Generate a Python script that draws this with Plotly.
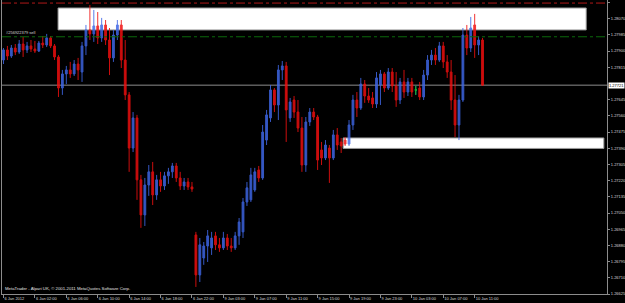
import plotly.graph_objects as go

# ---- data (EURUSD-like M30 bars) ----
OPEN = [1.27853,1.27906,1.27874,1.27916,1.27895,1.27937,1.27906,1.27927,1.27911,1.27900,
        1.27942,1.27932,1.27969,1.27927,1.27869,1.27706,1.27780,1.27801,1.27780,1.27832,
        1.27790,1.27927,1.28011,1.27990,1.28032,1.27969,1.28037,1.27958,1.27864,1.27984,
        1.28037,1.27853,1.27670,1.27391,1.27549,1.27224,1.27040,1.27197,1.27266,1.27145,
        1.27224,1.27192,1.27245,1.27266,1.27297,1.27234,1.27192,1.27213,1.27187,1.26935,
        1.26725,1.26814,1.26877,1.26867,1.26930,1.26883,1.26867,1.26919,1.26877,1.26867,
        1.26930,1.26951,1.27108,1.27119,1.27171,1.27276,1.27234,1.27433,1.27549,1.27696,
        1.27617,1.27801,1.27822,1.27549,1.27643,1.27580,1.27496,1.27302,1.27528,1.27580,
        1.27554,1.27381,1.27339,1.27391,1.27339,1.27460,1.27423,1.27433,1.27412,1.27512,
        1.27643,1.27601,1.27727,1.27664,1.27654,1.27622,1.27722,1.27780,1.27706,1.27790,
        1.27717,1.27643,1.27738,1.27685,1.27738,1.27696,1.27706,1.27659,1.27774,1.27853,
        1.27879,1.27853,1.27927,1.27843,1.27790,1.27643,1.27512,1.27643,1.27984,1.27916,
        1.28037,1.27932,1.27958]
HIGH = [1.27916,1.27927,1.27932,1.27937,1.27958,1.27974,1.27948,1.27958,1.27953,1.27953,
        1.27979,1.27990,1.27979,1.27937,1.27879,1.27801,1.27822,1.27843,1.27853,1.27864,
        1.27948,1.28037,1.28142,1.28116,1.28105,1.28074,1.28063,1.28021,1.28011,1.28063,
        1.28063,1.27958,1.27685,1.27580,1.27565,1.27250,1.27234,1.27302,1.27318,1.27250,
        1.27266,1.27266,1.27287,1.27313,1.27313,1.27266,1.27234,1.27234,1.27213,1.26951,
        1.26919,1.26898,1.26961,1.26951,1.26951,1.26919,1.26951,1.26940,1.26919,1.26951,
        1.27024,1.27129,1.27213,1.27287,1.27287,1.27297,1.27512,1.27591,1.27722,1.27706,
        1.27827,1.27848,1.27843,1.27654,1.27664,1.27643,1.27554,1.27554,1.27601,1.27601,
        1.27565,1.27423,1.27433,1.27407,1.27486,1.27496,1.27444,1.27449,1.27538,1.27670,
        1.27685,1.27759,1.27748,1.27706,1.27685,1.27790,1.27801,1.27790,1.27811,1.27811,
        1.27790,1.27759,1.27801,1.27759,1.27759,1.27717,1.27738,1.27801,1.27879,1.27906,
        1.27916,1.27948,1.27948,1.27879,1.27853,1.27774,1.27670,1.28021,1.28037,1.28079,
        1.28095,1.27979,1.27969]
LOW = [1.27832,1.27853,1.27864,1.27879,1.27885,1.27869,1.27890,1.27895,1.27890,1.27895,
       1.27916,1.27921,1.27916,1.27853,1.27659,1.27670,1.27727,1.27759,1.27769,1.27748,
       1.27738,1.27879,1.27958,1.27948,1.27937,1.27948,1.27932,1.27774,1.27843,1.27958,
       1.27811,1.27643,1.27266,1.27370,1.27119,1.26972,1.26982,1.27140,1.27092,1.27119,
       1.27161,1.27171,1.27203,1.27234,1.27213,1.27171,1.27171,1.27171,1.27161,1.26662,
       1.26688,1.26778,1.26793,1.26830,1.26856,1.26846,1.26856,1.26856,1.26846,1.26856,
       1.26883,1.26919,1.27087,1.27108,1.27161,1.27213,1.27224,1.27407,1.27528,1.27580,
       1.27538,1.27748,1.27423,1.27528,1.27549,1.27475,1.27266,1.27266,1.27507,1.27538,
       1.27276,1.27302,1.27328,1.27208,1.27328,1.27381,1.27365,1.27402,1.27402,1.27486,
       1.27554,1.27591,1.27628,1.27628,1.27601,1.27601,1.27617,1.27685,1.27696,1.27685,
       1.27607,1.27622,1.27654,1.27664,1.27659,1.27670,1.27643,1.27643,1.27748,1.27827,
       1.27827,1.27843,1.27811,1.27759,1.27591,1.27449,1.27433,1.27633,1.27879,1.27895,
       1.27864,1.27879,1.27717]
CLOSE = [1.27906,1.27874,1.27916,1.27895,1.27937,1.27906,1.27927,1.27911,1.27900,1.27942,
         1.27932,1.27969,1.27927,1.27869,1.27706,1.27780,1.27801,1.27780,1.27832,1.27801,
         1.27927,1.28011,1.27990,1.28032,1.27969,1.28037,1.27958,1.27864,1.27984,1.28037,
         1.27853,1.27670,1.27391,1.27549,1.27224,1.27040,1.27197,1.27266,1.27145,1.27224,
         1.27192,1.27245,1.27266,1.27297,1.27234,1.27192,1.27213,1.27187,1.27176,1.26725,
         1.26883,1.26877,1.26930,1.26919,1.26883,1.26867,1.26919,1.26877,1.26867,1.26930,
         1.27003,1.27108,1.27182,1.27250,1.27266,1.27234,1.27475,1.27565,1.27696,1.27617,
         1.27801,1.27822,1.27591,1.27633,1.27580,1.27496,1.27302,1.27528,1.27580,1.27554,
         1.27328,1.27339,1.27407,1.27339,1.27460,1.27407,1.27402,1.27412,1.27512,1.27643,
         1.27601,1.27727,1.27664,1.27643,1.27622,1.27759,1.27780,1.27706,1.27790,1.27717,
         1.27643,1.27738,1.27685,1.27738,1.27685,1.27696,1.27659,1.27774,1.27853,1.27879,
         1.27853,1.27927,1.27843,1.27790,1.27643,1.27512,1.27643,1.27984,1.27916,1.28021,
         1.27932,1.27958,1.27721]
DOJI_BARS = [105]

TICK_BARS = [0, 8, 16, 24, 32, 40, 48, 56, 64, 72, 80, 88, 96, 104, 112, 120]
TICK_TEXT = ["6 Jan 2012", "6 Jan 02:00", "6 Jan 06:00", "6 Jan 10:00", "6 Jan 14:00",
             "6 Jan 18:00", "6 Jan 22:00", "9 Jan 03:00", "9 Jan 07:00", "9 Jan 11:00",
             "9 Jan 15:00", "9 Jan 19:00", "9 Jan 23:00", "10 Jan 03:00", "10 Jan 07:00",
             "10 Jan 11:00"]
# 1.27730 is hidden behind the bid label in the reference
PRICE_TICKS = [1.26625, 1.26710, 1.26795, 1.26880, 1.26965, 1.27050, 1.27135, 1.27220,
               1.27305, 1.27390, 1.27475, 1.27560, 1.27645, 1.27815, 1.27900,
               1.27985, 1.28070, 1.28155]

STOP_LEVEL = 1.28152
ORDER_LEVEL = 1.27975
ORDER_LABEL = "#256922379 sell"
BID = 1.27721
ZONE_TOP = dict(x0=13.9, x1=148.4, y0=1.28011, y1=1.28126)
ZONE_LOW = dict(x0=86.5, x1=152.9, y0=1.27389, y1=1.27444)
COPYRIGHT = "MetaTrader - Alpari UK, © 2001-2011 MetaQuotes Software Corp."

BLUE = "#3f67e6"
RED = "#f01010"
FONT = "Liberation Sans"
FS = 4

bars = list(range(len(OPEN)))
fig = go.Figure()
fig.add_trace(go.Candlestick(
    x=bars, open=OPEN, high=HIGH, low=LOW, close=CLOSE,
    increasing=dict(line=dict(color=BLUE, width=1), fillcolor=BLUE),
    decreasing=dict(line=dict(color=RED, width=1), fillcolor=RED),
    opacity=0.85, whiskerwidth=0, hoverinfo="skip", showlegend=False))
fig.add_trace(go.Candlestick(
    x=DOJI_BARS, open=[OPEN[i] for i in DOJI_BARS], high=[HIGH[i] for i in DOJI_BARS],
    low=[LOW[i] for i in DOJI_BARS], close=[CLOSE[i] for i in DOJI_BARS],
    increasing=dict(line=dict(color="#10c020", width=1), fillcolor="#10c020"),
    decreasing=dict(line=dict(color="#10c020", width=1), fillcolor="#10c020"),
    hoverinfo="skip", showlegend=False))

shapes = []
for z in (ZONE_TOP, ZONE_LOW):
    shapes.append(dict(type="rect", xref="x", yref="y", layer="below",
                       fillcolor="#ffffff", line=dict(color="#9a9a9a", width=1), **z))
shapes.append(dict(type="line", xref="paper", yref="y", x0=0, x1=1, y0=BID, y1=BID,
                   line=dict(color="#8c8c8c", width=1), layer="below"))
shapes.append(dict(type="line", xref="paper", yref="y", x0=0, x1=1, y0=ORDER_LEVEL, y1=ORDER_LEVEL,
                   line=dict(color="#0b6a0b", width=1, dash="dashdot")))
shapes.append(dict(type="line", xref="paper", yref="y", x0=0, x1=1, y0=STOP_LEVEL, y1=STOP_LEVEL,
                   line=dict(color="#b01818", width=1, dash="dashdot")))

annotations = [
    dict(xref="paper", yref="y", x=0.003, y=ORDER_LEVEL, text=ORDER_LABEL, showarrow=False,
         xanchor="left", yanchor="bottom", font=dict(size=FS, color="#d8d8d8"), yshift=0),
    dict(xref="paper", yref="paper", x=0.002, y=0.0, text=COPYRIGHT, showarrow=False,
         xanchor="left", yanchor="bottom", font=dict(size=FS + 0.3, color="#e0e0e0"), yshift=1),
    dict(xref="paper", yref="y", x=1, y=BID, text="1.27721", showarrow=False,
         xanchor="left", yanchor="middle", bgcolor="#ffffff", borderpad=0,
         font=dict(size=FS, color="#000000"), xshift=1),
]

fig.update_layout(
    width=625, height=303,
    margin=dict(l=2, r=18, t=0, b=9, autoexpand=False),
    paper_bgcolor="#000000", plot_bgcolor="#000000",
    font=dict(family=FONT, size=FS, color="#d8d8d8"),
    shapes=shapes, annotations=annotations, boxgap=0.35,
    xaxis=dict(range=[-0.38, 153.7], rangeslider=dict(visible=False), showgrid=False,
               zeroline=False, showline=True, linecolor="#8c8c8c", linewidth=1,
               tickmode="array", tickvals=TICK_BARS, ticktext=TICK_TEXT, tickangle=0,
               automargin=False,
               ticks="outside", ticklen=3, tickcolor="#8c8c8c",
               ticklabelposition="outside right", tickfont=dict(size=FS, color="#d8d8d8")),
    yaxis=dict(range=[1.26625, 1.28168], side="right", showgrid=False, zeroline=False,
               showline=True, mirror=True, linecolor="#8c8c8c", linewidth=1, automargin=False,
               tickmode="array", tickvals=PRICE_TICKS, tickformat=".5f",
               ticks="outside", ticklen=2, tickcolor="#8c8c8c",
               tickfont=dict(size=FS, color="#d8d8d8")),
)

fig.write_html("out.html")
